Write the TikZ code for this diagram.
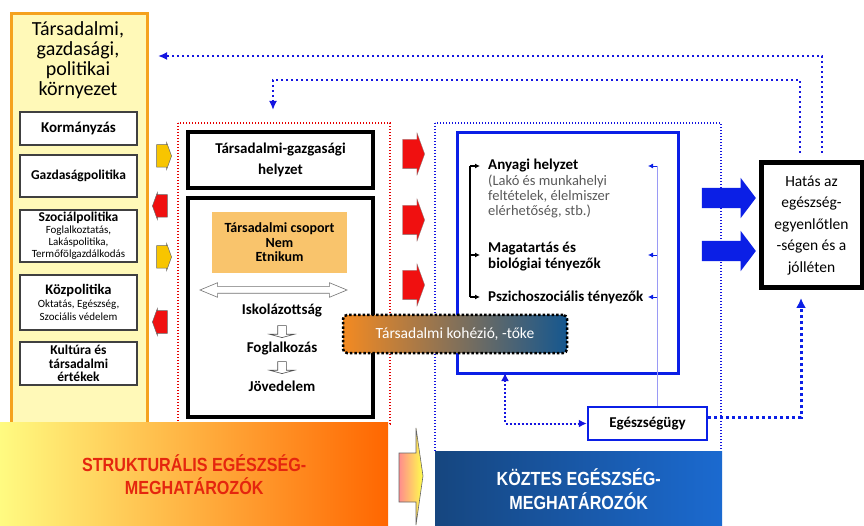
\documentclass[tikz,border=0pt]{standalone}
\usepackage{fontspec}
\setmainfont{Carlito}
\newfontfamily\narrowfont[FakeStretch=0.85]{Liberation Sans}
\usetikzlibrary{arrows.meta,shapes.arrows,positioning}

\definecolor{panelyellow}{HTML}{FFF9B8}
\definecolor{panelorange}{HTML}{F5A21E}
\definecolor{groupfill}{HTML}{F9C46C}
\definecolor{dotblue}{HTML}{1515E0}
\definecolor{strongblue}{HTML}{0B1FE6}
\definecolor{thinblue}{HTML}{9A9AF5}
\definecolor{kohorange}{HTML}{F38A22}
\definecolor{kohblue}{HTML}{15578F}
\definecolor{strucred}{HTML}{E5260E}
\definecolor{kozdark}{HTML}{16467F}
\definecolor{kozlight}{HTML}{1B6AD0}
\definecolor{arrowred}{HTML}{F01010}
\definecolor{arrowyellow}{HTML}{F8C500}

\begin{document}
\begin{tikzpicture}[x=1pt, y=-1pt,
    envpanel/.style={draw=panelorange, line width=3pt, fill=panelyellow},
    policybox/.style={draw=black!75, fill=white, line width=1.4pt, minimum width=117pt, inner sep=1pt, align=center},
    thickbox/.style={draw=black, line width=3.5pt, fill=white, minimum width=185pt},
    reddots/.style={draw=red!90!black, line width=1.4pt, dash pattern=on 1.4pt off 1.6pt},
    bluedots/.style={draw=dotblue, line width=1.4pt, dash pattern=on 1.4pt off 1.6pt},
    loopline/.style={draw=dotblue, line width=2.2pt, dash pattern=on 2.2pt off 2.8pt},
    healthline/.style={draw=strongblue, line width=3pt, dash pattern=on 3pt off 3pt},
    smallarrow/.style={single arrow, draw=black!60, line width=0.5pt, minimum height=15pt, inner xsep=0pt, inner ysep=11pt, single arrow head extend=2pt, single arrow tip angle=140},
    redarrow/.style={single arrow, fill=arrowred, draw=black!50, line width=0.3pt, minimum height=22pt, inner xsep=0pt, inner ysep=14.5pt, single arrow head extend=6.5pt, single arrow tip angle=140},
    bluearrow/.style={single arrow, fill=strongblue, minimum height=54pt, inner xsep=0pt, inner ysep=10pt, single arrow head extend=10pt, single arrow tip angle=106},
    downarrow/.style={single arrow, shape border rotate=270, draw=black!70, fill=white, line width=0.6pt, minimum height=12pt, inner sep=4pt, single arrow head extend=8pt, single arrow tip angle=150},
    steptext/.style={font=\bfseries\fontsize{15}{17}\selectfont},
    itemtext/.style={font=\bfseries\fontsize{15}{16}\selectfont, align=left, inner sep=1pt}]
\useasboundingbox (0,0) rectangle (864,526);

% left panel
\node[envpanel, minimum width=136pt, minimum height=410pt, anchor=north west] (env) at (10,12) {};
\node[font=\fontsize{20}{20}\selectfont, align=center] (envtitle) at (78,60) {Társadalmi,\\gazdasági,\\politikai\\környezet};

\node[policybox, minimum height=33pt, font=\bfseries\fontsize{15}{14}\selectfont] (korm) at (78.5,128.5) {Kormányzás};
\node[policybox, minimum height=42pt, font=\bfseries\fontsize{13.5}{14}\selectfont] (gazd) at (78.5,176) {Gazdaságpolitika};
\node[policybox, minimum height=52pt, font=\fontsize{11}{12}\selectfont] (szoc) at (78.5,236) {\textbf{\fontsize{13.5}{12}\selectfont Szociálpolitika}\\Foglalkoztatás,\\Lakáspolitika,\\Termőfölgazdálkodás};
\node[policybox, minimum height=55pt, font=\fontsize{11}{13}\selectfont] (kozp) at (78.5,302.5) {\textbf{\fontsize{14.5}{13}\selectfont Közpolitika}\\Oktatás, Egészség,\\Szociális védelem};
\node[policybox, minimum height=43pt, font=\bfseries\fontsize{13.5}{13.5}\selectfont] (kult) at (78.5,363.5) {Kultúra és\\társadalmi\\értékek};

% small arrows between panel and structure
\node[smallarrow, fill=arrowyellow] (ya1) at (162,156) {};
\node[smallarrow, fill=arrowred, shape border rotate=180] (ra1) at (162,206) {};
\node[smallarrow, fill=arrowyellow] (ya2) at (162,257) {};
\node[smallarrow, fill=arrowred, shape border rotate=180] (ra2) at (162,322) {};

% dotted frames
\draw[reddots] (178,123) rectangle (390,424);
\draw[bluedots] (435,123) rectangle (721,452);

% structural part
\node[thickbox, minimum height=56pt, font=\bfseries\fontsize{15}{21}\selectfont, align=center] (helyzet) at (280.5,160) {Társadalmi-gazgasági\\helyzet};
\node[thickbox, minimum height=219pt] (posbox) at (280.5,307.5) {};
\node[fill=groupfill, minimum width=135pt, minimum height=61pt, font=\bfseries\fontsize{14}{14.5}\selectfont, align=center] (group) at (279.5,242.5) {Társadalmi csoport\\Nem\\Etnikum};
\node[double arrow, draw=black!55, fill=white, line width=0.6pt, minimum height=147pt, inner xsep=0pt, inner ysep=3pt, double arrow head extend=4pt, double arrow tip angle=45] (grad) at (273.5,290) {};
\node[steptext] (iskola) at (282,311) {Iskolázottság};
\node[downarrow] (da1) at (282,331) {};
\node[steptext] (fogl) at (282,349) {Foglalkozás};
\node[downarrow] (da2) at (282,367) {};
\node[steptext] (jov) at (282,386) {Jövedelem};

% red arrows to intermediate part
\node[redarrow] (rb1) at (411,154) {};
\node[redarrow] (rb2) at (411,220) {};
\node[redarrow] (rb3) at (411,285) {};

% intermediate part
\draw[strongblue, line width=3pt] (457,133) rectangle (678,373);
\coordinate (kb) at (505,373);
\node[itemtext, anchor=west] (anyagi) at (487,166) {Anyagi helyzet};
\node[font=\fontsize{14.5}{15}\selectfont, text=black!65, align=left, inner sep=1pt, anchor=north west] (anyagidesc) at (anyagi.south west) {(Lakó és munkahelyi\\feltételek, élelmiszer\\elérhetőség, stb.)};
\node[itemtext, anchor=west] (magat) at (487,257) {Magatartás és\\biológiai tényezők};
\node[itemtext, anchor=west] (pszich) at (487,297) {Pszichoszociális tényezők};

\coordinate (br1) at (470,166);
\coordinate (br2) at (470,255);
\coordinate (br3) at (470,297);
\draw[line width=1.3pt] (br1) -- (br3);
\draw[line width=1.3pt, -{Latex[length=5pt,width=5pt]}] (br1) -- ([xshift=-7pt]anyagi.west);
\draw[line width=1.3pt, -{Latex[length=5pt,width=5pt]}] (br2) -- ([xshift=-7pt]magat.west |- br2);
\draw[line width=1.3pt, -{Latex[length=5pt,width=5pt]}] (br3) -- ([xshift=-7pt]pszich.west);

\node[draw=strongblue, line width=2.5pt, fill=white, minimum width=119pt, minimum height=33pt, font=\bfseries\fontsize{15}{16}\selectfont] (egesz) at (647.5,423.5) {Egészségügy};

\coordinate (rl1) at (657,166);
\coordinate (rl2) at (657,255);
\coordinate (rl3) at (657,297);
\coordinate (rt1) at (648,166);
\coordinate (rt2) at (648,255);
\coordinate (rt3) at (648,297);
\draw[thinblue, line width=0.8pt] (rl1) -- (rl1 |- egesz.north);
\draw[strongblue, line width=0.8pt, -{Latex[length=5pt,width=5pt]}] (rl1) -- (rt1);
\draw[strongblue, line width=0.8pt, -{Latex[length=5pt,width=5pt]}] (rl2) -- (rt2);
\draw[strongblue, line width=0.8pt, -{Latex[length=5pt,width=5pt]}] (rl3) -- (rt3);

\draw[bluedots, line width=2pt, dash pattern=on 2pt off 2pt, {Latex[length=8pt,width=8pt]}-{Latex[length=8pt,width=8pt]}] (kb) |- (egesz.west);

% social cohesion
\node[draw=black, line width=2.5pt, dash pattern=on 2.5pt off 2pt, rounded corners=4pt, left color=kohorange, right color=kohblue, minimum width=224pt, minimum height=38pt, text=white, font=\fontsize{15.5}{16}\selectfont] (kohez) at (455,334) {Társadalmi kohézió, -tőke};

% outcome
\node[bluearrow] (ba1) at (725,198) {};
\node[bluearrow] (ba2) at (725,251) {};
\node[draw=black, line width=5pt, fill=white, minimum width=101pt, minimum height=125pt, font=\fontsize{15.5}{21.5}\selectfont, align=center, inner sep=0pt] (hatas) at (811.5,225.5) {Hatás az\\egészség-\\egyenlőtlen\\-ségen és a\\jólléten};

\coordinate (hin) at (800,153);
\coordinate (hout) at (822,153);
\coordinate (envtip) at (158,56);
\coordinate (loopc) at (273,80);
\coordinate (looptip) at (273,110);
\coordinate (hbot) at (801,298);
\draw[loopline, -{Latex[length=9pt,width=8pt]}] (hout) |- (envtip);
\draw[loopline, -{Latex[length=9pt,width=8pt]}] (hin) |- (loopc) -- (looptip);
\draw[healthline, -{Latex[length=10pt,width=10pt]}] ([yshift=6pt]egesz.east) -| (hbot);

% bottom labels
\node[anchor=north west, minimum width=388pt, minimum height=104pt, left color=yellow!30!panelyellow, right color=orange!80!red, text=strucred, font=\narrowfont\bfseries\fontsize{19}{23}\selectfont, align=center] (struct) at (0,422) {STRUKTURÁLIS EGÉSZSÉG-\\MEGHATÁROZÓK};
\draw[black!60, line width=0.6pt, left color=red!45, right color=yellow!70] (399,453) -- (416,453) -- (416,428) -- (423,476) -- (416,525) -- (416,502) -- (399,502) -- cycle;
\node[anchor=north west, minimum width=287pt, minimum height=75pt, left color=kozdark, right color=kozlight, text=white, font=\narrowfont\bfseries\fontsize{19}{24}\selectfont, align=center] (koztes) at (435,451) {KÖZTES EGÉSZSÉG-\\MEGHATÁROZÓK};
\end{tikzpicture}
\end{document}
